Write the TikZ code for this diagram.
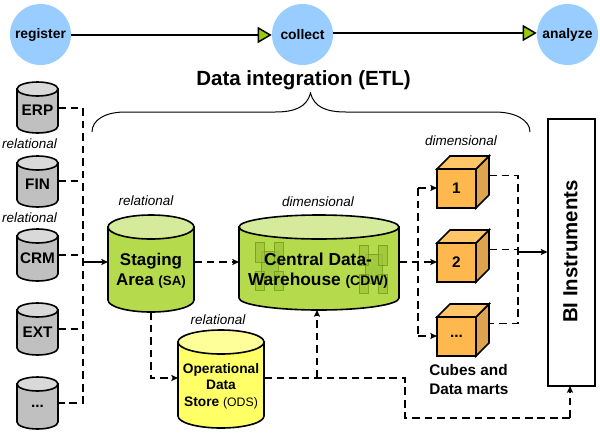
\documentclass[tikz,border=0pt]{standalone}
\usepackage{fontspec}
\setmainfont{Liberation Sans}
\usetikzlibrary{arrows.meta}
\definecolor{cblue}{HTML}{99CCFF}
\definecolor{cgreen}{HTML}{99CC00}
\definecolor{dbg}{HTML}{B5DB4C}
\definecolor{dbt}{HTML}{D5EA9A}
\definecolor{yb}{HTML}{FFFF66}
\definecolor{yt}{HTML}{FFFF99}
\definecolor{gb}{HTML}{C0C0C0}
\definecolor{gt}{HTML}{D9D9D9}
\definecolor{of}{HTML}{FFB84D}
\definecolor{ot}{HTML}{FFC566}
\definecolor{os}{HTML}{DDA44D}
\definecolor{wm}{HTML}{9DC43A}
\definecolor{wl}{HTML}{6E9A10}
\tikzset{
 x=0.75pt,y=-0.75pt,
 proc/.style={circle,fill=cblue,minimum size=45.75pt,inner sep=0pt,font=\fontsize{10.4pt}{12pt}\selectfont\bfseries},
 flow/.style={line width=1.5pt,-{Triangle[length=10.5pt,width=12pt,fill=cgreen,line width=1.1pt]}},
 dl/.style={line width=1.1pt,dash pattern=on 5.8pt off 3.6pt},
 da/.style={dl,-{Stealth[length=5pt,width=4.5pt,inset=1pt]}},
 lab/.style={font=\fontsize{10.1pt}{12pt}\selectfont\itshape,inner sep=0pt},
 ttl/.style={inner sep=0pt,align=center,font=\bfseries},
 cell/.style={draw=wl,fill=wm,line width=0.5pt,opacity=0.75},
}
% #1 name, #2 left, #3 right, #4 top, #5 ellipse height, #6 bottom, #7 body, #8 top colour, #9 text
\newcommand{\dbcyl}[9]{%
 \path[fill=#7,draw=black,line width=1.2pt] (#2,#4+#5/2) -- (#2,#6-#5/2) arc[start angle=180,end angle=360,x radius={(#3-#2)/2*0.75pt},y radius={#5/2*0.75pt}] -- (#3,#4+#5/2) -- cycle;
 \path[fill=#8,draw=black,line width=1.2pt] ({(#2+#3)/2},{#4+#5/2}) ellipse[x radius={(#3-#2)/2*0.75pt},y radius={#5/2*0.75pt}];
 \node[inner sep=0pt,outer sep=0pt,minimum width={(#3-#2)*0.75pt},minimum height={(#6-#4)*0.75pt}] (#1) at ({(#2+#3)/2},{(#4+#6)/2}) {};
}
\newcommand{\cube}[4]{%
 \path[fill=os,draw=black,line width=1.2pt] (476,#2) -- (489,#2-13) -- (489,#2+26) -- (476,#2+39) -- cycle;
 \path[fill=ot,draw=black,line width=1.2pt] (437,#2) -- (450,#2-13) -- (489,#2-13) -- (476,#2) -- cycle;
 \node[draw=black,fill=of,line width=1.2pt,minimum width=29.25pt,minimum height=29.25pt,inner sep=0pt,outer sep=0pt,font=\fontsize{11.5pt}{13pt}\selectfont\bfseries] (#1) at (456.5,#2+19.5) {#3};
 \coordinate (#1o) at (489,#2+6.5);
}
\newcommand{\wmark}[2]{%
 \begin{scope}[shift={(#1,#2)}]
 \path[cell] (6,9) rectangle (23,38);
 \path[cell] (0,0) rectangle (9,20);
 \path[cell] (19,0) rectangle (28,20);
 \path[cell] (0,29) rectangle (9,48);
 \path[cell] (19,29) rectangle (28,48);
 \end{scope}
}
\begin{document}
\begin{tikzpicture}
\useasboundingbox (0,0) rectangle (600,433);
\path[fill=white] (0,0) rectangle (600,433);
% process
\node[proc] (reg) at (40.5,34.5) {register};
\node[proc] (col) at (302.5,34.5) {collect};
\node[proc] (ana) at (567.5,34.5) {analyze};
\draw[flow] (reg.east |- 0,35) -- (col.west |- 0,35);
\draw[flow] (col.east |- 0,33) -- (ana.west |- 0,33);
\node[ttl,font=\fontsize{15.4pt}{18pt}\selectfont\bfseries] (title) at (303.5,80) {Data integration (ETL)};
% brace
\draw[line width=0.75pt] (92,132) .. controls (92,120) and (105,112) .. (125,112) -- (275,112) .. controls (295,112) and (307,107) .. (310.5,93) .. controls (314,107) and (326,112) .. (346,112) -- (495,112) .. controls (515,112) and (530,120) .. (530,132);
% sources
\dbcyl{erp}{17}{58}{82}{14}{133}{gb}{gt}{}
\dbcyl{fin}{17}{58}{156}{14}{207}{gb}{gt}{}
\dbcyl{crm}{17}{58}{229}{14}{281}{gb}{gt}{}
\dbcyl{ext}{17}{58}{303}{14}{355}{gb}{gt}{}
\dbcyl{etc}{17}{58}{377}{14}{429}{gb}{gt}{}
\path[font=\fontsize{11.5pt}{15pt}\selectfont\bfseries]
 node at (37.5,110) {ERP} node at (37.5,184) {FIN} node at (37.5,258) {CRM} node at (37.5,332) {EXT} node at (37.5,406) {...};
\node[lab] (l1) at (29.5,144) {relational};
\node[lab] (l2) at (29.5,218) {relational};
% SA
\dbcyl{sa}{108}{194}{215}{24}{312}{dbg}{dbt}{}
\node[ttl,font=\fontsize{12.7pt}{15.2pt}\selectfont\bfseries] (satxt) at (151,271) {Staging\\Area {\fontsize{10pt}{12pt}\selectfont (SA)}};
\node[lab] (l3) at (146,201) {relational};
% CDW
\dbcyl{cdw}{239}{399}{215}{24}{310}{dbg}{dbt}{}
\wmark{255}{242}
\wmark{359}{245}
\node[ttl,font=\fontsize{13pt}{15.2pt}\selectfont\bfseries] (cdwtxt) at (318,271) {Central Data-\\Warehouse {\fontsize{10.4pt}{12pt}\selectfont (CDW)}};
\node[lab] (l4) at (318,202) {dimensional};
% ODS
\dbcyl{ods}{178}{264}{330}{24}{428}{yb}{yt}{}
\node[ttl,font=\fontsize{10.3pt}{12.3pt}\selectfont\bfseries] (odstxt) at (221,386) {Operational\\Data\\Store {\fontsize{9.2pt}{11pt}\selectfont\mdseries (ODS)}};
\node[lab] (l5) at (218,320) {relational};
% cubes
\cube{c1}{169}{1}{}
\cube{c2}{243}{2}{}
\cube{c3}{317}{...}{}
\node[lab] (l6) at (461,141) {dimensional};
\node[ttl,align=left,anchor=west,font=\fontsize{11.5pt}{14pt}\selectfont\bfseries] (cm) at (429,379.5) {Cubes and\\Data marts};
% BI
\node[draw=black,line width=1.5pt,fill=white,minimum width=35.25pt,minimum height=200.25pt,inner sep=0pt,outer sep=0pt] (bi) at (571,252.5) {};
\node[ttl,rotate=90,font=\fontsize{15.3pt}{17pt}\selectfont\bfseries] (bitxt) at (570.5,251.5) {BI Instruments};
% connectors
\coordinate (t1) at (83,108);
\coordinate (t2) at (83,403);
\draw[dl] (erp.east |- 0,108) -- (t1) -- (t2) -- (etc.east |- 0,403);
\draw[dl] (fin.east |- 0,181) -- (83,181);
\draw[dl] (crm.east |- 0,255) -- (83,255);
\draw[dl] (ext.east |- 0,329) -- (83,329);
\draw[line width=1.1pt,-{Stealth[length=5pt,width=4.5pt,inset=1pt]}] (83,262) -- (sa.west |- 0,262);
\draw[da] (sa.east |- 0,262) -- (cdw.west |- 0,262);
\draw[da] (sa.south) -- (151,378) -- (ods.west |- 0,378);
\draw[dl] (ods.east |- 0,378) -- (405,378) -- (405,418) -- (570,418);
\draw[da] (570,418) -- (bi.south -| 570,0);
\draw[da] (317,378) -- (cdw.south -| 317,0);
\coordinate (t3) at (418,188);
\coordinate (t4) at (418,336);
\draw[dl] (t3) -- (t4);
\draw[da] (t3) -- (c1.west |- t3);
\draw[da] (t4) -- (c3.west |- t4);
\draw[da] (cdw.east |- 0,262) -- (c2.west |- 0,262);
\draw[dl,line width=1.4pt] (c1o) -- (518,175.5) -- (518,323.5) -- (c3o);
\draw[dl,line width=1.4pt] (c2o) -- (518,249.5);
\draw[line width=1.1pt,-{Stealth[length=5pt,width=4.5pt,inset=1pt]}] (518,252) -- (bi.west |- 0,252);
\end{tikzpicture}
\end{document}
